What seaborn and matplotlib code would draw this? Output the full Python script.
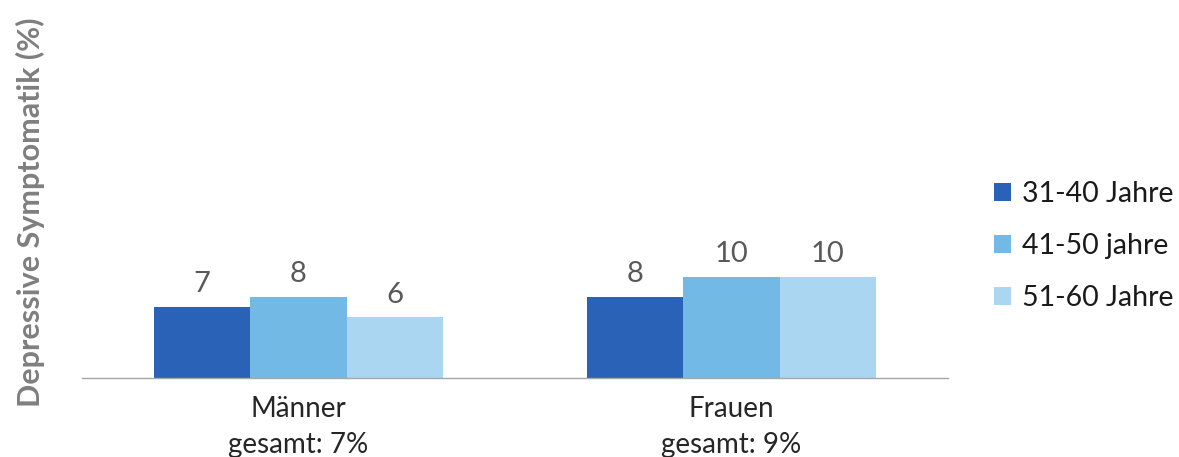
import matplotlib
matplotlib.use("Agg")
import matplotlib.pyplot as plt
import seaborn as sns
import pandas as pd

# Depressive symptoms by sex and age group (percent)
groups = ["Männer", "Frauen"]
group_totals = ["gesamt: 7%", "gesamt: 9%"]
age_groups = ["31-40 Jahre", "41-50 jahre", "51-60 Jahre"]
values_maenner = [7, 8, 6]
values_frauen = [8, 10, 10]
colors = ["#2A62B8", "#72B9E6", "#ABD6F1"]

rows = []
for grp, vals in zip(groups, [values_maenner, values_frauen]):
    for age, v in zip(age_groups, vals):
        rows.append({"Gruppe": grp, "Alter": age, "Wert": v})
df = pd.DataFrame(rows)

sns.set_theme(style="white")
plt.rcParams["font.family"] = ["Lato", "DejaVu Sans"]

fig = plt.figure(figsize=(11.79, 4.57), dpi=100)
ax = fig.add_axes([82 / 1179, 79 / 457, 866 / 1179, 354 / 457])

sns.barplot(data=df, x="Gruppe", y="Wert", hue="Alter", order=groups,
            hue_order=age_groups, palette=colors, width=0.667, gap=0,
            saturation=1, linewidth=0, errorbar=None, ax=ax)

ax.set_ylim(0, 35)
ax.set_xlim(-0.5, 1.5)
ax.set_yticks([])
ax.set_xlabel("")
ax.set_ylabel("")
for side in ["top", "right", "left"]:
    ax.spines[side].set_visible(False)
ax.spines["bottom"].set_color("#A6A6A6")
ax.spines["bottom"].set_linewidth(1.0)

ax.set_xticks(range(len(groups)))
ax.set_xticklabels([f"{g}\n{t}" for g, t in zip(groups, group_totals)],
                   fontsize=20, color="#262626", linespacing=1.45)
ax.tick_params(axis="x", length=0, pad=13)

for cont in ax.containers:
    ax.bar_label(cont, fmt="%d", padding=7, fontsize=21, color="#595959")

fig.text(30 / 1179, 0.535, "Depressive Symptomatik (%)", rotation=90,
         ha="center", va="center", fontsize=22, fontweight="bold",
         color="#7F7F7F")

handles, labels = ax.get_legend_handles_labels()
ax.get_legend().remove()
fig.legend(handles, labels, loc="center left",
           bbox_to_anchor=(968 / 1179, 1 - 246 / 457), frameon=False,
           fontsize=20.5, handlelength=0.6, handleheight=0.6,
           handletextpad=0.4, labelspacing=0.9, labelcolor="#1A1A1A")

fig.savefig("out.png", dpi=100, facecolor="white")
